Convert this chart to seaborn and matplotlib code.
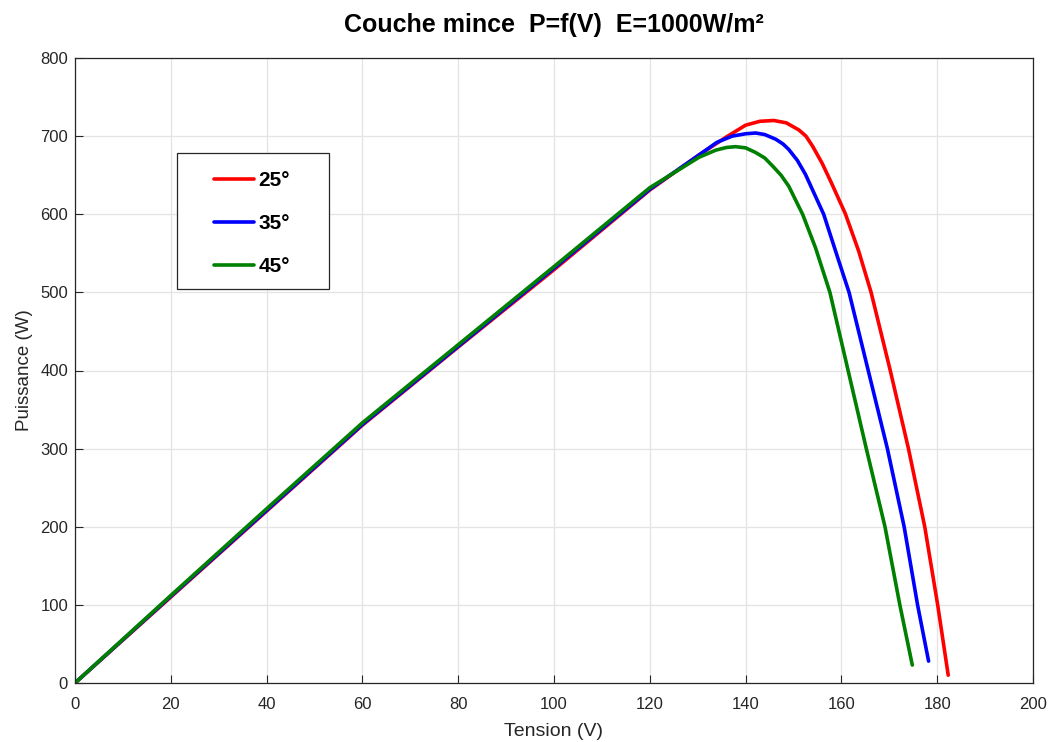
import numpy as np
import pandas as pd
import matplotlib
matplotlib.use("Agg")
import matplotlib.pyplot as plt
from matplotlib.patches import Rectangle
import seaborn as sns

# ---- data ----
labels = ["25°", "35°", "45°"]
colors = ["#ff0000", "#0000ff", "#008000"]

V25 = [0, 20, 40, 60, 80, 100, 120, 130.3, 136.0, 140.0, 143.0, 145.9, 148.5, 151.1,
       152.6, 154.0, 156.0, 158.0, 160.8, 163.6, 166.2, 170.2, 174.0, 177.4, 180.1, 182.3]
P25 = [0, 110, 220, 330, 430, 529, 631, 676, 699, 714, 719, 720, 717, 708,
       700, 687, 665, 639, 601, 553, 500, 400, 300, 200, 100, 10]

V35 = [0, 20, 40, 60, 80, 100, 120, 130.3, 134.0, 137.2, 140.0, 142.1, 144.0, 146.3,
       147.8, 149.0, 150.8, 152.5, 156.3, 159.2, 161.6, 165.6, 169.6, 173.1, 175.9, 178.2]
P35 = [0, 111, 221, 331, 431, 531, 632, 676, 692, 700, 703, 704, 702, 696,
       690, 683, 669, 651, 600, 545, 500, 400, 300, 200, 100, 28]

V45 = [0, 20, 40, 60, 80, 100, 120, 130.3, 133.75, 136.0, 137.9, 140.0, 142.1, 144.0,
       145.6, 147.4, 149.0, 151.9, 154.6, 157.6, 161.4, 165.2, 169.1, 172.2, 174.8]
P45 = [0, 112, 223, 333, 433, 533, 634, 673, 682, 685.5, 686.5, 685, 679, 672,
       662, 650, 636, 600, 557, 500, 400, 300, 200, 100, 23]

x_ticks = list(range(0, 201, 20))
y_ticks = list(range(0, 801, 100))

df = pd.concat([
    pd.DataFrame({"V": V25, "P": P25, "T": labels[0]}),
    pd.DataFrame({"V": V35, "P": P35, "T": labels[1]}),
    pd.DataFrame({"V": V45, "P": P45, "T": labels[2]}),
], ignore_index=True)

sns.set_theme(style="white")
plt.rcParams["font.family"] = ["Liberation Sans", "DejaVu Sans"]

fig = plt.figure(figsize=(10.52, 7.42), dpi=100)
ax = fig.add_axes([75 / 1052, 59 / 742, 958 / 1052, 625 / 742])

sns.lineplot(data=df, x="V", y="P", hue="T", palette=colors, estimator=None,
             sort=False, linewidth=2.6, ax=ax, legend=True)

ax.set_xlim(0, 200)
ax.set_ylim(0, 800)
ax.set_xticks(x_ticks)
ax.set_yticks(y_ticks)
ax.grid(True, color="#e3e3e3", linewidth=0.9)
ax.set_axisbelow(True)
for s in ax.spines.values():
    s.set_color("#262626")
    s.set_linewidth(0.9)
ax.tick_params(axis="both", direction="in", length=6, width=0.8, color="#262626",
               labelsize=12, labelcolor="#262626", top=False, right=False,
               bottom=True, left=True)
ax.tick_params(axis="x", pad=10)
ax.tick_params(axis="y", pad=5)

ax.set_xlabel("Tension (V)", fontsize=14, color="#262626", labelpad=8)
ax.set_ylabel("Puissance (W)", fontsize=13.5, color="#262626", labelpad=5)
ax.set_title("Couche mince  P=f(V)  E=1000W/m²", fontsize=18, fontweight="bold",
             color="black", pad=19)

# legend box (drawn separately for exact placement)
box = Rectangle(((176.7 - 75) / 958, (683 - 289.3) / 625), 152.6 / 958, 136.6 / 625,
                transform=ax.transAxes, facecolor="white", edgecolor="#262626",
                linewidth=0.9, zorder=5)
ax.add_patch(box)

leg = ax.legend(loc="center left", bbox_to_anchor=((214 - 75) / 958, (683 - 223.7) / 625),
                borderaxespad=0, borderpad=0, frameon=False,
                prop={"weight": "bold", "size": 15}, handlelength=1.92,
                labelspacing=1.15, handletextpad=0.2, labelcolor="black")
leg.set_zorder(6)
for h in leg.get_lines():
    h.set_linewidth(2.6)

fig.savefig("out.png", dpi=100, facecolor="white")
